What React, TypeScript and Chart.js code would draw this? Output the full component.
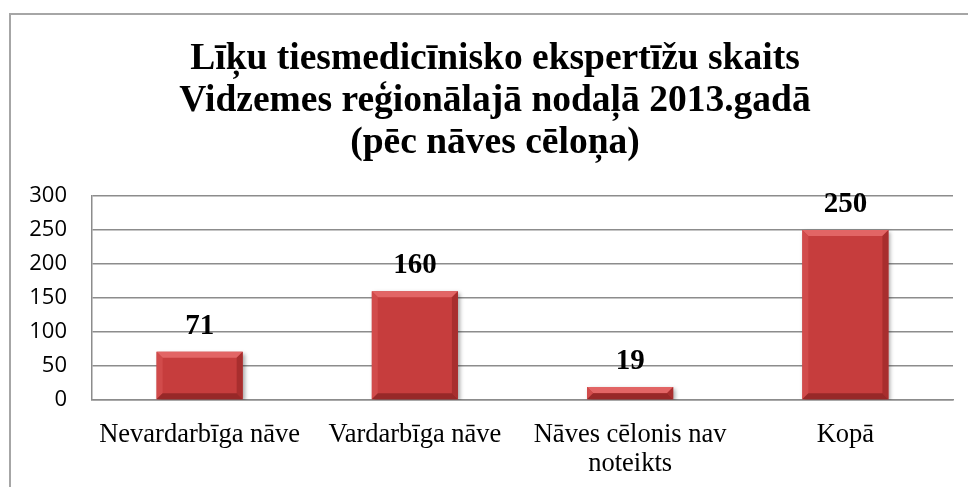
import React, { useEffect, useRef } from "react";
import { Chart, registerables } from "chart.js";

Chart.register(...registerables);

const titleLines = [
  "Līķu tiesmedicīnisko ekspertīžu skaits",
  "Vidzemes reģionālajā nodaļā 2013.gadā",
  "(pēc nāves cēloņa)",
];
const categories: (string | string[])[] = [
  "Nevardarbīga nāve",
  "Vardarbīga nāve",
  ["Nāves cēlonis nav", "noteikts"],
  "Kopā",
];
const values = [71, 160, 19, 250];
const yTicks = { min: 0, max: 300, step: 50 };

const framePlugin = {
  id: "frameAndTitle",
  beforeDraw(chart: any) {
    const ctx = chart.ctx;
    ctx.save();
    ctx.fillStyle = "#ffffff";
    ctx.fillRect(0, 0, chart.width, chart.height);
    ctx.strokeStyle = "#A6A6A6";
    ctx.lineWidth = 2;
    ctx.strokeRect(10, 14, 1200, 1000);
    ctx.fillStyle = "#000000";
    ctx.font = 'bold 37.5px "Liberation Serif", "Times New Roman", serif';
    ctx.textAlign = "center";
    ctx.textBaseline = "alphabetic";
    const base = [69, 111, 153];
    titleLines.forEach((t, i) => ctx.fillText(t, 495, base[i]));
    ctx.restore();
  },
  beforeDatasetDraw(chart: any) {
    const ctx = chart.ctx;
    ctx.save();
    ctx.shadowColor = "rgba(0,0,0,0.35)";
    ctx.shadowBlur = 4;
    ctx.shadowOffsetX = 2;
    ctx.shadowOffsetY = 2;
  },
  afterDatasetDraw(chart: any) {
    chart.ctx.restore();
  },
  afterDatasetsDraw(chart: any) {
    const ctx = chart.ctx;
    const meta = chart.getDatasetMeta(0);
    ctx.save();
    meta.data.forEach((bar: any, i: number) => {
      const w = bar.width;
      const l = bar.x - w / 2;
      const r = bar.x + w / 2;
      const t = bar.y;
      const b = bar.base;
      const h = b - t;
      const bv = Math.min(6, h / 2, w / 2);
      const poly = (pts: number[][], col: string) => {
        ctx.beginPath();
        ctx.moveTo(pts[0][0], pts[0][1]);
        for (let k = 1; k < pts.length; k++) ctx.lineTo(pts[k][0], pts[k][1]);
        ctx.closePath();
        ctx.fillStyle = col;
        ctx.fill();
      };
      poly([[l, t], [r, t], [r - bv, t + bv], [l + bv, t + bv]], "#E26565");
      poly([[l, t], [l + bv, t + bv], [l + bv, b - bv], [l, b]], "#D14B4B");
      poly([[r, t], [r, b], [r - bv, b - bv], [r - bv, t + bv]], "#A82E2E");
      poly([[l, b], [l + bv, b - bv], [r - bv, b - bv], [r, b]], "#972828");

      ctx.fillStyle = "#000000";
      ctx.font = 'bold 29px "Liberation Serif", "Times New Roman", serif';
      ctx.textAlign = "center";
      ctx.textBaseline = "alphabetic";
      ctx.fillText(String(values[i]), bar.x, t - 18);
    });
    ctx.restore();
  },
};

export default function App() {
  const ref = useRef<HTMLCanvasElement | null>(null);
  useEffect(() => {
    if (!ref.current) return;
    const chart = new Chart(ref.current, {
      type: "bar",
      data: {
        labels: categories as any,
        datasets: [
          {
            data: values,
            backgroundColor: "#C63D3D",
            borderWidth: 0,
            barPercentage: 0.4,
            categoryPercentage: 1,
          },
        ],
      },
      options: {
        animation: false,
        responsive: true,
        maintainAspectRatio: false,
        layout: { padding: { left: 0, top: 196, right: 15, bottom: 0 } },
        plugins: {
          legend: { display: false },
          title: { display: false },
          tooltip: { enabled: false },
        },
        scales: {
          x: {
            grid: { display: false, drawTicks: false },
            border: { display: true, color: "#8C8C8C", width: 1.5 },
            ticks: {
              color: "#000000",
              font: { family: '"Liberation Serif", "Times New Roman", serif', size: 26.5, lineHeight: 1.12 },
              padding: 20,
              maxRotation: 0,
              autoSkip: false,
            },
            afterFit: (s: any) => {
              s.height = 87;
            },
          },
          y: {
            min: yTicks.min,
            max: yTicks.max,
            grid: { color: "#8C8C8C", lineWidth: 1.5, drawTicks: false },
            border: { display: true, color: "#8C8C8C", width: 1.5 },
            ticks: {
              stepSize: yTicks.step,
              color: "#000000",
              font: { family: '"Open Sans", "Noto Sans", sans-serif', size: 22 },
              padding: 25,
            },
            afterFit: (s: any) => {
              s.width = 92;
            },
          },
        },
      },
      plugins: [framePlugin],
    });
    return () => chart.destroy();
  }, []);
  return (
    <div style={{ position: "fixed", left: 0, top: 0, width: 968, height: 487 }}>
      <canvas ref={ref} />
    </div>
  );
}
